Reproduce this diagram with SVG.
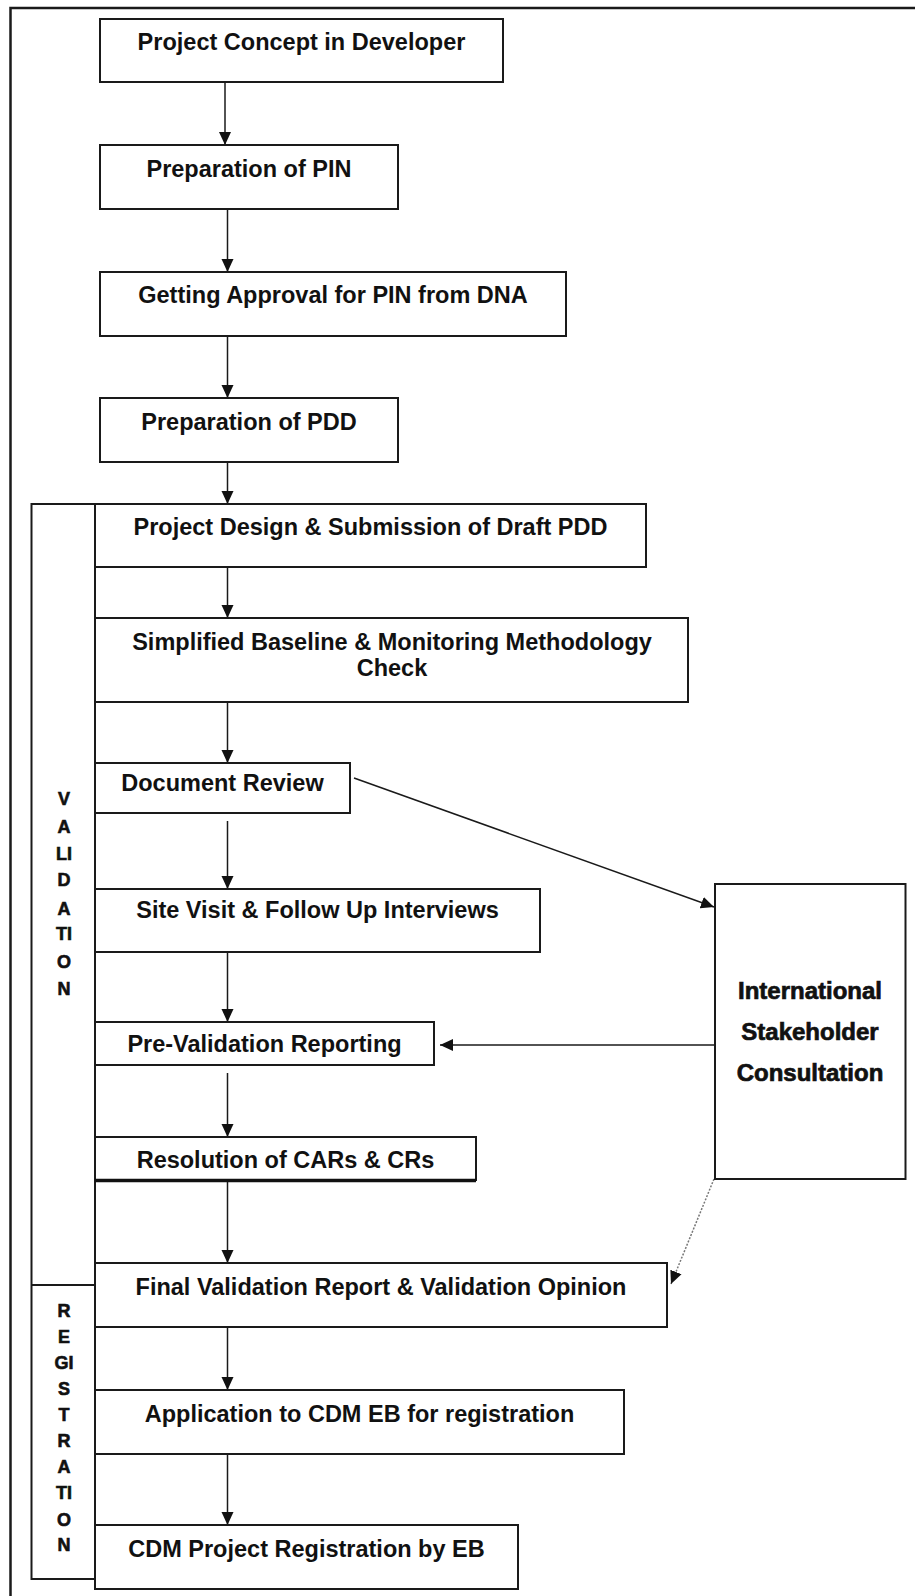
<svg xmlns="http://www.w3.org/2000/svg" width="915" height="1596" viewBox="0 0 915 1596">
<defs>
<style>
.box{fill:#fff;stroke:#1a1a1a;stroke-width:2}
.t{font-family:"Liberation Sans",Arial,sans-serif;font-weight:bold;font-size:23.5px;fill:#111;text-anchor:middle}
.side{font-family:"Liberation Sans",Arial,sans-serif;font-weight:bold;font-size:18px;fill:#111;stroke:#111;stroke-width:0.6;text-anchor:middle}
.isc{font-family:"Liberation Sans",Arial,sans-serif;font-weight:bold;font-size:24px;fill:#111;stroke:#111;stroke-width:0.7;text-anchor:middle}
.frame{fill:none;stroke:#1a1a1a;stroke-width:2}
.c{fill:none;stroke:#1a1a1a;stroke-width:1.5;marker-end:url(#ah)}
.d{fill:none;stroke:#777;stroke-width:1.5;stroke-dasharray:2 1.5;marker-end:url(#ah)}
</style>
<marker id="ah" markerUnits="userSpaceOnUse" markerWidth="14" markerHeight="14" viewBox="0 0 14 14" refX="13" refY="7" orient="auto">
<path d="M0,1 L13,7 L0,13 Z" fill="#111"/>
</marker>
</defs>
<rect width="915" height="1596" fill="#fff"/>
<g id="frame">
<path class="frame" d="M10.5,1596 V8 H915" style="stroke-width:2.5"/>
<path class="frame" d="M95,504 H31.5 V1579 H95 M31.5,1285 H95 M95,504 V1589"/>
</g>
<g id="side-labels">
<text class="side" x="64" y="805">V</text>
<text class="side" x="64" y="833">A</text>
<text class="side" x="64" y="860">LI</text>
<text class="side" x="64" y="886">D</text>
<text class="side" x="64" y="915">A</text>
<text class="side" x="64" y="940">TI</text>
<text class="side" x="64" y="968">O</text>
<text class="side" x="64" y="995">N</text>
<text class="side" x="64" y="1317">R</text>
<text class="side" x="64" y="1343">E</text>
<text class="side" x="64" y="1369">GI</text>
<text class="side" x="64" y="1395">S</text>
<text class="side" x="64" y="1421">T</text>
<text class="side" x="64" y="1447">R</text>
<text class="side" x="64" y="1473">A</text>
<text class="side" x="64" y="1499">TI</text>
<text class="side" x="64" y="1526">O</text>
<text class="side" x="64" y="1551">N</text>
</g>
<g id="connectors">
<path class="c" d="M225,82 V145"/>
<path class="c" d="M227.5,209 V272"/>
<path class="c" d="M227.5,336 V398"/>
<path class="c" d="M227.5,462 V504"/>
<path class="c" d="M227.5,562 V618"/>
<path class="c" d="M227.5,702 V763"/>
<path class="c" d="M354,778 L714,907"/>
<path class="c" d="M227.5,821 V889"/>
<path class="c" d="M227.5,947 V1022"/>
<path class="c" d="M715,1045 H440"/>
<path class="c" d="M227.5,1073 V1137"/>
<path class="c" d="M227.5,1181 V1263"/>
<path class="d" d="M714,1179 L671,1284"/>
<path class="c" d="M227.5,1327 V1390"/>
<path class="c" d="M227.5,1454 V1525"/>
</g>
<g id="n1"><rect class="box" x="100" y="19" width="403" height="63"/><text class="t" x="301.5" y="50">Project Concept in Developer</text></g>
<g id="n2"><rect class="box" x="100" y="145" width="298" height="64"/><text class="t" x="249" y="177">Preparation of PIN</text></g>
<g id="n3"><rect class="box" x="100" y="272" width="466" height="64"/><text class="t" x="333" y="303">Getting Approval for PIN from DNA</text></g>
<g id="n4"><rect class="box" x="100" y="398" width="298" height="64"/><text class="t" x="249" y="430">Preparation of PDD</text></g>
<g id="n5"><rect class="box" x="95" y="504" width="551" height="63"/><text class="t" x="370.5" y="535">Project Design &amp; Submission of Draft PDD</text></g>
<g id="n6"><rect class="box" x="95" y="618" width="593" height="84"/><text class="t" x="392" y="650">Simplified Baseline &amp; Monitoring Methodology</text><text class="t" x="392" y="676">Check</text></g>
<g id="n7"><rect class="box" x="95" y="763" width="255" height="50"/><text class="t" x="222.5" y="791">Document Review</text></g>
<g id="n8"><rect class="box" x="95" y="889" width="445" height="63"/><text class="t" x="317.5" y="918">Site Visit &amp; Follow Up Interviews</text></g>
<g id="n9"><rect class="box" x="95" y="1022" width="339" height="43"/><text class="t" x="264.5" y="1052">Pre-Validation Reporting</text></g>
<g id="n10"><rect class="box" x="95" y="1137" width="381" height="43"/><path d="M95,1180.5 H476" stroke="#111" stroke-width="3.5"/><text class="t" x="285.5" y="1168">Resolution of CARs &amp; CRs</text></g>
<g id="n11"><rect class="box" x="95" y="1263" width="572" height="64"/><text class="t" x="381" y="1295">Final Validation Report &amp; Validation Opinion</text></g>
<g id="n12"><rect class="box" x="95" y="1390" width="529" height="64"/><text class="t" x="359.5" y="1422">Application to CDM EB for registration</text></g>
<g id="n13"><rect class="box" x="95" y="1525" width="423" height="64"/><text class="t" x="306.5" y="1557">CDM Project Registration by EB</text></g>
<g id="isc"><rect class="box" x="715" y="884" width="190.5" height="295"/><text class="isc" x="810" y="999">International</text><text class="isc" x="810" y="1040">Stakeholder</text><text class="isc" x="810" y="1081">Consultation</text></g>
</svg>
